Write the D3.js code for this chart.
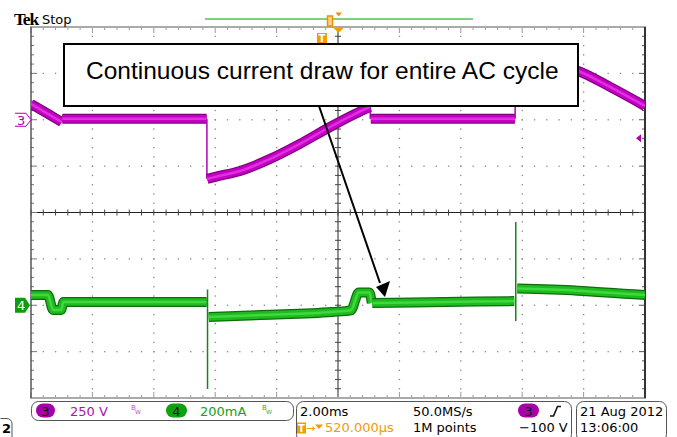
<!DOCTYPE html>
<html>
<head>
<meta charset="utf-8">
<script src="https://cdn.jsdelivr.net/npm/d3@7"></script>
<style>
body{margin:0;background:#fff}
svg{display:block}
text{font-family:"DejaVu Sans",sans-serif}
</style>
</head>
<body>
<svg id="canvas" width="677" height="437"></svg>
<script>
// scope settings
let timePerDiv = 2      // ms/div
let ch3Scale = 250      // V/div
let ch4Scale = 200      // mA/div
let ch3Pos = 2          // divs above centre
let ch4Pos = -2

// ch3 (line voltage) pieces, [ms, V]
let ch3Fall1 = [[0, 85], [0.5, 37], [1.0, -12]]
let ch3Flat1 = [[1.02, 5], [3.5, 5], [5.72, 5]]
let ch3Rise = [[5.74, -319], [6.0, -308], [6.81, -276], [7.79, -211], [8.76, -130], [9.74, -39], [10.55, 31], [11.04, 69]]
let ch3Flat2 = [[11.07, 5], [13.5, 5], [15.76, 5]]
let ch3Fall2 = [[15.78, 330], [16.8, 300], [17.82, 263], [18.86, 177], [20, 74]]
let ch3Edges = [[[5.73, 5], [5.73, -319]], [[11.05, 69], [11.05, 5]], [[15.77, 5], [15.77, 330]]]

// ch4 (current) pieces, [ms, mA]
let ch4Seg1 = [[0, 44], [0.55, 44], [0.72, -20], [0.98, -20], [1.06, 14], [3.5, 14], [5.72, 14]]
let ch4Seg2 = [[5.79, -51], [7.5, -42], [9.8, -29], [10.42, -22], [10.68, 55], [11.02, 55], [11.1, 10]]
let ch4Seg3 = [[11.12, 10], [13.5, 14], [15.74, 18]]
let ch4Seg4 = [[15.84, 72], [17.8, 63], [20, 44]]
let ch4Spikes = [[[5.75, 68], [5.75, -361]], [[15.79, 359], [15.79, -68]]]

let annotation = 'Continuous current draw for entire AC cycle'

let canvas = d3.select('#canvas')

let xDiv = d3.scaleLinear().domain([0, 10]).range([31, 645])
let yDiv = d3.scaleLinear().domain([-4, 4]).range([398, 27])
let xT = d3.scaleLinear().domain([0, 10 * timePerDiv]).range([31, 645])
let yV = d3.scaleLinear().domain([(-4 - ch3Pos) * ch3Scale, (4 - ch3Pos) * ch3Scale]).range([398, 27])
let yI = d3.scaleLinear().domain([(-4 - ch4Pos) * ch4Scale, (4 - ch4Pos) * ch4Scale]).range([398, 27])

// ---- graticule
let grat = canvas.append('g')
let minorX = d3.range(0, 50.001, 1).map(k => k / 5)
let minorY = d3.range(0, 40.001, 1).map(k => k / 5 - 4)
let isMajor = d => Math.abs(d - Math.round(d)) < 0.01

for (let i = 1; i < 10; i++) {
    if (i === 5) continue
    grat.selectAll(null).data(minorY).enter().append('rect')
        .attr('x', xDiv(i) - 0.6).attr('y', d => yDiv(d) - 0.6)
        .attr('width', 1.3).attr('height', 1.3).attr('fill', '#888')
}
for (let j = -3; j < 4; j++) {
    if (j === 0) continue
    grat.selectAll(null).data(minorX).enter().append('rect')
        .attr('x', d => xDiv(d) - 0.6).attr('y', yDiv(j) - 0.6)
        .attr('width', 1.3).attr('height', 1.3).attr('fill', '#888')
}
// centre cross
grat.append('line').attr('x1', xDiv(5)).attr('x2', xDiv(5)).attr('y1', yDiv(4)).attr('y2', yDiv(-4))
    .attr('stroke', '#222').attr('stroke-width', 1)
grat.append('line').attr('x1', xDiv(0)).attr('x2', xDiv(10)).attr('y1', yDiv(0)).attr('y2', yDiv(0))
    .attr('stroke', '#222').attr('stroke-width', 1)
grat.selectAll(null).data(minorX).enter().append('line')
    .attr('x1', d => xDiv(d)).attr('x2', d => xDiv(d))
    .attr('y1', yDiv(0) - 3).attr('y2', yDiv(0) + 3).attr('stroke', '#444')
grat.selectAll(null).data(minorY).enter().append('line')
    .attr('y1', d => yDiv(d)).attr('y2', d => yDiv(d))
    .attr('x1', xDiv(5) - 3).attr('x2', xDiv(5) + 3).attr('stroke', '#444')
// edge ticks
grat.selectAll(null).data(minorX).enter().append('line')
    .attr('x1', d => xDiv(d)).attr('x2', d => xDiv(d))
    .attr('y1', yDiv(4)).attr('y2', d => yDiv(4) + (isMajor(d) ? 6 : 3))
    .attr('stroke', '#999')
grat.selectAll(null).data(minorX).enter().append('line')
    .attr('x1', d => xDiv(d)).attr('x2', d => xDiv(d))
    .attr('y1', yDiv(-4)).attr('y2', d => yDiv(-4) - (isMajor(d) ? 6 : 3))
    .attr('stroke', '#999')
grat.selectAll(null).data(minorY).enter().append('line')
    .attr('y1', d => yDiv(d)).attr('y2', d => yDiv(d))
    .attr('x1', xDiv(0)).attr('x2', d => xDiv(0) + (isMajor(d) ? 6 : 3))
    .attr('stroke', '#777')
grat.selectAll(null).data(minorY).enter().append('line')
    .attr('y1', d => yDiv(d)).attr('y2', d => yDiv(d))
    .attr('x1', xDiv(10)).attr('x2', d => xDiv(10) - (isMajor(d) ? 6 : 3))
    .attr('stroke', '#555')
// frame
grat.append('line').attr('x1', 30).attr('x2', 646).attr('y1', 27).attr('y2', 27).attr('stroke', '#aaa').attr('stroke-width', 2)
grat.append('line').attr('x1', 30).attr('x2', 646).attr('y1', 398).attr('y2', 398).attr('stroke', '#aaa').attr('stroke-width', 2)
grat.append('line').attr('x1', 31).attr('x2', 31).attr('y1', 27).attr('y2', 398).attr('stroke', '#555').attr('stroke-width', 1.5)
grat.append('line').attr('x1', 645).attr('x2', 645).attr('y1', 27).attr('y2', 398).attr('stroke', '#333').attr('stroke-width', 2)

// ---- traces
canvas.append('clipPath').attr('id', 'plot')
    .append('rect').attr('x', 31).attr('y', 27).attr('width', 614).attr('height', 371)
let traces = canvas.append('g').attr('clip-path', 'url(#plot)')

let drawBand = (data, yScale, colors) => {
    let line = d3.line().x(d => xT(d[0])).y(d => yScale(d[1])).curve(d3.curveMonotoneX)
    let widths = [10, 7.5, 2.5]
    colors.forEach((c, i) => {
        traces.append('path').datum(data).attr('d', line)
            .attr('fill', 'none').attr('stroke', c).attr('stroke-width', widths[i])
            .attr('stroke-linejoin', 'round')
    })
}
let drawThin = (data, yScale, color, w) => {
    let line = d3.line().x(d => xT(d[0])).y(d => yScale(d[1]))
    traces.append('path').datum(data).attr('d', line)
        .attr('fill', 'none').attr('stroke', color).attr('stroke-width', w)
}

let magenta = ['#800080', '#c400c4', '#e030e0']
let green = ['#0b6e0b', '#1fba1f', '#3fd83f']

ch3Edges.forEach(e => drawThin(e, yV, '#b000b0', 1.5))
;[ch3Fall1, ch3Flat1, ch3Rise, ch3Flat2, ch3Fall2].forEach(s => drawBand(s, yV, magenta))

;[ch4Seg1, ch4Seg2, ch4Seg3, ch4Seg4].forEach(s => drawBand(s, yI, green))
ch4Spikes.forEach(e => drawThin(e, yI, '#0f8a0f', 1.5))

// ---- annotation
canvas.append('rect').attr('x', 64).attr('y', 44).attr('width', 514).attr('height', 62)
    .attr('fill', '#fff').attr('stroke', '#000').attr('stroke-width', 2)
canvas.append('text').attr('x', 86).attr('y', 79)
    .style('font-family', '"Liberation Sans", Arial, sans-serif').style('font-size', '24.5px')
    .text(annotation)
canvas.append('line').attr('x1', 319).attr('y1', 106).attr('x2', 380).attr('y2', 283)
    .attr('stroke', '#000').attr('stroke-width', 2)
canvas.append('polygon').attr('points', '376,287 390,281 385,297').attr('fill', '#000')

// ---- top status
canvas.append('text').attr('x', 14).attr('y', 25)
    .style('font-family', '"Liberation Serif", serif').style('font-weight', 'bold')
    .style('font-size', '17.5px').style('letter-spacing', '-1.2px').text('Tek')
canvas.append('text').attr('x', 42).attr('y', 24).style('font-size', '13px').text('Stop')
canvas.append('line').attr('x1', 205).attr('x2', 473).attr('y1', 19).attr('y2', 19)
    .attr('stroke', '#80d080').attr('stroke-width', 2)
canvas.append('rect').attr('x', 327.5).attr('y', 16).attr('width', 5).attr('height', 10)
    .attr('fill', '#ffd28a').attr('stroke', '#f09000').attr('stroke-width', 1.5)
canvas.append('polygon').attr('points', '335.5,12.5 342,12.5 338.7,16.5').attr('fill', '#f09000')
canvas.append('polygon').attr('points', '333,27.5 344,27.5 338.5,33').attr('fill', '#f39c00')
canvas.append('rect').attr('x', 317).attr('y', 33).attr('width', 10).attr('height', 10).attr('fill', '#f39c00')
canvas.append('text').attr('x', 322).attr('y', 42).attr('text-anchor', 'middle')
    .style('font-size', '10px').style('font-weight', 'bold').attr('fill', '#fff').text('T')

// channel markers
let ch3y = yV(0), ch4y = yI(0)
canvas.append('path')
    .attr('d', `M15,${ch3y - 6.5} H26 L31,${ch3y} L26,${ch3y + 6.5} H15`)
    .attr('fill', '#fff').attr('stroke', '#b000b0').attr('stroke-width', 1)
canvas.append('text').attr('x', 17).attr('y', ch3y + 5).style('font-size', '13px')
    .attr('fill', '#b000b0').text('3')
canvas.append('path')
    .attr('d', `M15,${ch4y - 7.5} H25 L30,${ch4y} L25,${ch4y + 7.5} H15 Z`)
    .attr('fill', '#0d9a0d')
canvas.append('text').attr('x', 17).attr('y', ch4y + 5).style('font-size', '13px')
    .attr('fill', '#fff').text('4')
// trigger level marker
let trigY = yV(-100)
canvas.append('polygon').attr('points', `636,${trigY} 641,${trigY - 4} 641,${trigY + 4}`).attr('fill', '#b000b0')

// ---- bottom readout
let bar = canvas.append('g')
bar.append('rect').attr('x', 31.5).attr('y', 401.5).attr('width', 262).attr('height', 19).attr('rx', 7)
    .attr('fill', 'none').attr('stroke', '#555')
bar.append('rect').attr('x', 296.5).attr('y', 401.5).attr('width', 275).attr('height', 40).attr('rx', 7)
    .attr('fill', 'none').attr('stroke', '#555')
bar.append('rect').attr('x', 576.5).attr('y', 401.5).attr('width', 90).attr('height', 40).attr('rx', 7)
    .attr('fill', 'none').attr('stroke', '#555')
bar.append('path').attr('d', 'M0.5,418.5 H6 Q12,418.5 12,424 V440').attr('fill', 'none').attr('stroke', '#555')
bar.append('text').attr('x', 2).attr('y', 433).style('font-size', '13px').style('font-weight', 'bold').text('2')

let oval = (x, w, fill, label) => {
    bar.append('rect').attr('x', x).attr('y', 403.5).attr('width', w).attr('height', 14).attr('rx', 7)
        .attr('fill', fill)
    bar.append('text').attr('x', x + w / 2).attr('y', 415.5).attr('text-anchor', 'middle')
        .style('font-size', '13px').attr('fill', '#111').text(label)
}
let bw = (x, color) => {
    bar.append('text').attr('x', x).attr('y', 410).style('font-size', '7px').attr('fill', color).text('B')
    bar.append('text').attr('x', x + 4).attr('y', 414).style('font-size', '6px').attr('fill', color).text('W')
}
oval(36, 19, '#a800a8', '3')
bar.append('text').attr('x', 70).attr('y', 415.5).style('font-size', '13px').attr('fill', '#b010b0').text('250 V')
bw(131, '#c050c0')
oval(166, 21, '#10a010', '4')
bar.append('text').attr('x', 200).attr('y', 415.5).style('font-size', '13px').attr('fill', '#18a018').text('200mA')
bw(262, '#40b040')

bar.append('text').attr('x', 300).attr('y', 415.5).style('font-size', '13px').text('2.00ms')
bar.append('text').attr('x', 413).attr('y', 415.5).style('font-size', '13px').text('50.0MS/s')
oval(518, 21, '#a800a8', '3')
bar.append('path').attr('d', 'M550,416 H553.5 L557.5,406.5 H561').attr('fill', 'none')
    .attr('stroke', '#111').attr('stroke-width', 1.6)
bar.append('rect').attr('x', 297).attr('y', 422.5).attr('width', 9).attr('height', 11).attr('fill', '#f39c00')
bar.append('text').attr('x', 301.5).attr('y', 432).attr('text-anchor', 'middle')
    .style('font-size', '10px').style('font-weight', 'bold').attr('fill', '#fff').text('T')
bar.append('text').attr('x', 306).attr('y', 431.5).style('font-size', '11px').attr('fill', '#f39c00').text('→')
bar.append('polygon').attr('points', '315,424.5 323,424.5 319,429').attr('fill', '#f39c00')
bar.append('text').attr('x', 325).attr('y', 431.5).style('font-size', '13px').attr('fill', '#f39c00').text('520.000µs')
bar.append('text').attr('x', 413).attr('y', 431.5).style('font-size', '13px').text('1M points')
bar.append('text').attr('x', 519).attr('y', 431.5).style('font-size', '13px').text('−100 V')
bar.append('text').attr('x', 580).attr('y', 415.5).style('font-size', '13px').text('21 Aug 2012')
bar.append('text').attr('x', 580).attr('y', 431.5).style('font-size', '13px').text('13:06:00')
</script>
</body>
</html>
